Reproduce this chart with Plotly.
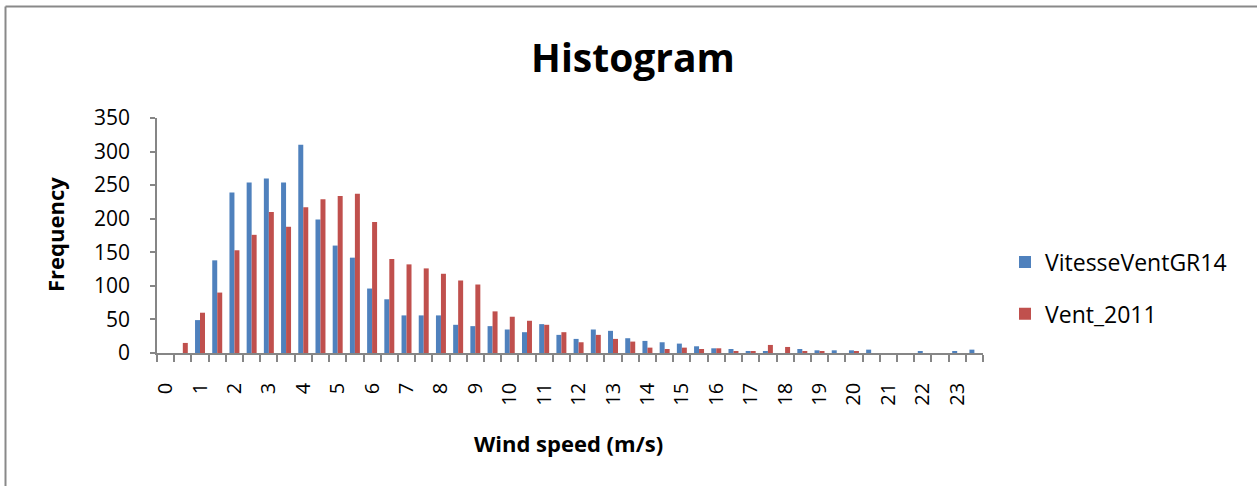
import plotly.graph_objects as go

# Bin starts (m/s)
bins = [0, 0.5, 1, 1.5, 2, 2.5, 3, 3.5, 4, 4.5, 5, 5.5, 6, 6.5, 7, 7.5,
        8, 8.5, 9, 9.5, 10, 10.5, 11, 11.5, 12, 12.5, 13, 13.5, 14, 14.5, 15, 15.5,
        16, 16.5, 17, 17.5, 18, 18.5, 19, 19.5, 20, 20.5, 21, 21.5, 22, 22.5, 23, 23.5]

vitesse_gr14 = [0, 0, 49, 138, 239, 254, 260, 254, 310, 199, 160, 142, 96, 80, 56, 56,
                56, 42, 40, 40, 35, 31, 43, 27, 21, 35, 33, 22, 18, 16, 14, 10,
                7, 6, 3, 2, 0, 6, 4, 4, 4, 5, 0, 0, 3, 0, 2, 5]

vent_2011 = [0, 15, 60, 90, 153, 176, 210, 188, 217, 229, 234, 237, 195, 140, 132, 126,
             118, 108, 102, 62, 54, 48, 42, 31, 16, 27, 21, 17, 8, 6, 8, 6,
             7, 3, 2, 12, 9, 2, 2, 0, 2, 0, 0, 0, 0, 0, 0, 0]

tick_vals = [0, 1, 2, 3, 4, 5, 6, 7, 8, 9, 10, 11, 12, 13, 14, 15, 16, 17, 18, 19, 20, 21, 22, 23]
tick_text = [str(v) for v in tick_vals]

W, H = 1257, 486
L, R, T, B = 157, 274, 118, 133
PW, PH = W - L - R, H - T - B

def px_x(px):
    return (px - L) / PW

def px_y(py):
    return (H - B - py) / PH

FONT = "Open Sans"
AXIS_GREY = "#868686"

fig = go.Figure()
fig.add_trace(go.Bar(x=bins, y=vitesse_gr14, name="VitesseVentGR14",
                     marker=dict(color="#4F81BD", line=dict(width=0)),
                     legendgroup="a"))
fig.add_trace(go.Bar(x=bins, y=vent_2011, name="Vent_2011",
                     marker=dict(color="#C0504D", line=dict(width=0)),
                     legendgroup="b"))

fig.update_layout(
    width=W, height=H,
    margin=dict(l=L, r=R, t=T, b=B, autoexpand=False),
    paper_bgcolor="white", plot_bgcolor="white",
    barmode="group", bargap=0.42, bargroupgap=0.0,
    font=dict(family=FONT, color="black"),
    title=dict(text="<b>Histogram</b>", x=633 / W, xref="container", xanchor="center",
               y=1 - 58 / H, yref="container", yanchor="middle",
               font=dict(family=FONT, size=39, color="black")),
    legend=dict(x=px_x(1005), y=px_y(288), xanchor="left", yanchor="middle",
                font=dict(family=FONT, size=23, color="black"),
                traceorder="grouped", tracegroupgap=19,
                bgcolor="rgba(0,0,0,0)", itemsizing="constant"),
    xaxis=dict(
        type="linear", range=[-0.25, 23.75],
        tickmode="array", tickvals=tick_vals, ticktext=tick_text,
        tickangle=-90, ticks="outside", ticklen=7, tickcolor="rgba(0,0,0,0)",
        ticklabelstandoff=13,
        tickfont=dict(family=FONT, size=20, color="black"),
        minor=dict(ticks="outside", tick0=-0.25, dtick=0.5, ticklen=7,
                   tickcolor=AXIS_GREY, tickwidth=1.5, showgrid=False),
        showline=True, linecolor=AXIS_GREY, linewidth=1.5,
        showgrid=False, zeroline=False, fixedrange=True,
    ),
    yaxis=dict(
        range=[0, 350], tickmode="linear", tick0=0, dtick=50,
        ticks="outside", ticklen=5, tickcolor=AXIS_GREY, tickwidth=1.5,
        ticklabelstandoff=16,
        tickfont=dict(family=FONT, size=21, color="black"),
        showline=True, linecolor=AXIS_GREY, linewidth=1.5,
        showgrid=False, zeroline=False, fixedrange=True,
    ),
    annotations=[
        dict(text="<b>Frequency</b>", x=px_x(55), y=px_y(235), xref="paper", yref="paper",
             textangle=-90, showarrow=False, xanchor="center", yanchor="middle",
             font=dict(family=FONT, size=22, color="black")),
        dict(text="<b>Wind speed (m/s)</b>", x=px_x(568), y=px_y(443), xref="paper", yref="paper",
             showarrow=False, xanchor="center", yanchor="middle",
             font=dict(family=FONT, size=22, color="black")),
    ],
    shapes=[
        dict(type="line", xref="paper", yref="paper",
             x0=px_x(5.5), x1=px_x(5.5), y0=px_y(6.5), y1=px_y(495),
             line=dict(color="#898989", width=2)),
        dict(type="line", xref="paper", yref="paper",
             x0=px_x(5.5), x1=px_x(1265), y0=px_y(6.5), y1=px_y(6.5),
             line=dict(color="#898989", width=2)),
    ],
)

fig.write_html("out.html")
